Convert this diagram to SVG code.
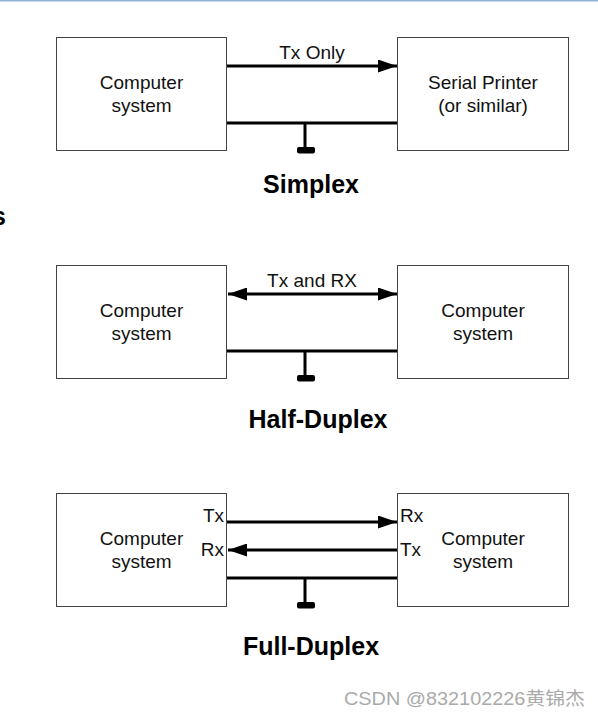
<svg xmlns="http://www.w3.org/2000/svg" width="598" height="718" viewBox="0 0 598 718">
<defs>
<style>
.box{fill:#fff;stroke:#444;stroke-width:1}
.t{font-family:"Liberation Sans",Arial,sans-serif;font-size:19px;fill:#111;text-anchor:middle}
.h{font-family:"Liberation Sans",Arial,sans-serif;font-size:25px;font-weight:bold;fill:#000;text-anchor:middle}
.w{stroke:#000;stroke-width:3;fill:none}
.gnd{fill:#000}
</style>
<marker id="ah" markerWidth="20" markerHeight="13" refX="19" refY="6.5" orient="auto-start-reverse" markerUnits="userSpaceOnUse">
<path d="M0,0 L19,6.5 L0,13 Z" fill="#000"/>
</marker>
</defs>
<rect x="0" y="0" width="598" height="718" fill="#fff"/>
<rect x="0" y="0" width="598" height="1.5" fill="#8fb4d6"/>
<text x="-8" y="225" style="font-family:'Liberation Sans',Arial,sans-serif;font-size:25px;font-weight:bold;fill:#000">s</text>

<g id="simplex-left">
<rect class="box" x="56.5" y="37.5" width="170" height="113"/>
<text class="t" x="141.5" y="89">Computer</text>
<text class="t" x="141.5" y="112">system</text>
</g>
<g id="simplex-right">
<rect class="box" x="397.5" y="37.5" width="171" height="113"/>
<text class="t" x="483" y="89">Serial Printer</text>
<text class="t" x="483" y="112">(or similar)</text>
</g>
<g id="halfduplex-left">
<rect class="box" x="56.5" y="265.5" width="170" height="113"/>
<text class="t" x="141.5" y="317">Computer</text>
<text class="t" x="141.5" y="340">system</text>
</g>
<g id="halfduplex-right">
<rect class="box" x="397.5" y="265.5" width="171" height="113"/>
<text class="t" x="483" y="317">Computer</text>
<text class="t" x="483" y="340">system</text>
</g>
<g id="fullduplex-left">
<rect class="box" x="56.5" y="493.5" width="170" height="113"/>
<text class="t" x="141.5" y="545">Computer</text>
<text class="t" x="141.5" y="568">system</text>
<text class="t" x="224" y="522" style="text-anchor:end">Tx</text>
<text class="t" x="224" y="556" style="text-anchor:end">Rx</text>
</g>
<g id="fullduplex-right">
<rect class="box" x="397.5" y="493.5" width="171" height="113"/>
<text class="t" x="483" y="545">Computer</text>
<text class="t" x="483" y="568">system</text>
<text class="t" x="400" y="522" style="text-anchor:start">Rx</text>
<text class="t" x="400" y="556" style="text-anchor:start">Tx</text>
</g>

<g id="connectors">
<line class="w" x1="227" y1="66" x2="397" y2="66" marker-end="url(#ah)"/>
<text class="t" x="312" y="59">Tx Only</text>
<line class="w" x1="227" y1="123" x2="397" y2="123"/>
<line class="w" x1="305" y1="123" x2="305" y2="149"/>
<rect class="gnd" x="297" y="147" width="18" height="6.5" rx="2"/>

<line class="w" x1="228" y1="294" x2="397" y2="294" marker-start="url(#ah)" marker-end="url(#ah)"/>
<text class="t" x="312" y="287">Tx and RX</text>
<line class="w" x1="227" y1="351" x2="397" y2="351"/>
<line class="w" x1="305" y1="351" x2="305" y2="377"/>
<rect class="gnd" x="297" y="375" width="18" height="6.5" rx="2"/>

<line class="w" x1="227" y1="522" x2="397" y2="522" marker-end="url(#ah)"/>
<line class="w" x1="397" y1="550" x2="228" y2="550" marker-end="url(#ah)"/>
<line class="w" x1="227" y1="578" x2="397" y2="578"/>
<line class="w" x1="305" y1="578" x2="305" y2="604"/>
<rect class="gnd" x="297" y="602" width="18" height="6.5" rx="2"/>
</g>

<text class="h" x="311" y="193">Simplex</text>
<text class="h" x="318" y="428">Half-Duplex</text>
<text class="h" x="311" y="655">Full-Duplex</text>

<text x="344" y="705" textLength="241" lengthAdjust="spacingAndGlyphs" style="font-family:'Liberation Sans','Noto Sans CJK SC',sans-serif;font-size:18.5px;fill:#aaa">CSDN @832102226黄锦杰</text>
</svg>
